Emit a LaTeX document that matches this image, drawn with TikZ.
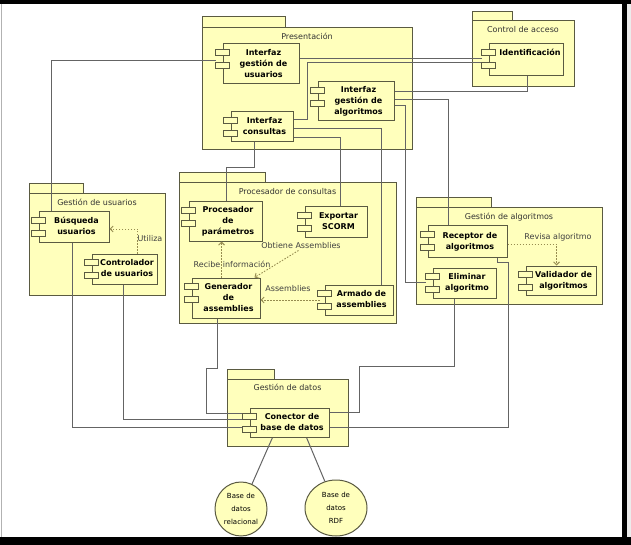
\documentclass[tikz,border=0pt]{standalone}
\usepackage{fontspec}
\setmainfont{DejaVu Sans}
\usetikzlibrary{calc,arrows.meta,shapes.geometric}
\pgfdeclarelayer{bg}
\pgfdeclarelayer{wires}
\pgfsetlayers{bg,wires,main}
\definecolor{pkgfill}{RGB}{255,255,188}
\definecolor{edgec}{RGB}{90,90,65}
\definecolor{wirec}{RGB}{100,100,100}
\definecolor{depc}{RGB}{150,140,80}
\tikzset{
  pkgbox/.style={draw=edgec, fill=pkgfill, line width=1pt, rectangle, inner sep=0pt},
  comp/.style={draw=edgec, fill=pkgfill, line width=1pt, rectangle, inner sep=0pt, align=center, font=\bfseries\fontsize{8}{11}\selectfont},
  comptab/.style={draw=edgec, fill=pkgfill, line width=0.9pt},
  wire/.style={draw=wirec, line width=1pt},
  dep/.style={draw=depc, line width=0.9pt, dash pattern=on 1.5pt off 1.5pt, -{Straight Barb[length=3pt,width=6pt]}},
  deplabel/.style={font=\fontsize{8}{10}\selectfont, text=black!75, inner sep=0pt},
  pkglabel/.style={font=\fontsize{8}{10}\selectfont, text=black!80, anchor=base, inner sep=0pt},
  dbnode/.style={ellipse, draw=edgec, fill=pkgfill, line width=1pt, inner sep=0pt, align=center, font=\fontsize{7}{13}\selectfont},
}
\newcommand\umlcomp[6]{%
  \node[comp, minimum width={(#4-#2)*1pt}, minimum height={(#5-#3)*1pt}] (#1) at ({(#2+#4)/2},{(#3+#5)/2}) {\hspace*{5pt}\begin{tabular}{@{}c@{}}#6\end{tabular}};
  \draw[comptab] ($(#1.north west)+(-7,6)$) rectangle ++(14,6);
  \draw[comptab] ($(#1.north west)+(-7,19)$) rectangle ++(14,6);
}
\newcommand\umlpkg[8]{%
  \begin{pgfonlayer}{bg}
  \draw[pkgbox] (#2,#7) rectangle (#6,#3);
  \node[pkgbox, minimum width={(#4-#2)*1pt}, minimum height={(#5-#3)*1pt}] (#1) at ({(#2+#4)/2},{(#3+#5)/2}) {};
  \node[pkglabel] (#1-l) at ($(#1.north)+(0,12)$) {#8};
  \end{pgfonlayer}
}
\begin{document}
\begin{tikzpicture}[x=1pt,y=-1pt]
\useasboundingbox (0,0) rectangle (631,545);
% frame
\begin{pgfonlayer}{bg}
\fill[white] (0,0) rectangle (631,545);
\fill[gray!15] (627,0) rectangle (631,545);
\fill[black] (0,0) rectangle (631,4);
\fill[black] (622,0) rectangle (627,545);
\fill[black] (0,537) rectangle (631,545);
\draw[gray!60, line width=1pt] (1.5,4) -- (1.5,537);
\end{pgfonlayer}

% packages
\umlpkg{pres}{202}{28}{412}{150}{285}{17}{Presentación}
\umlpkg{ctrl}{472}{21}{574}{87}{512}{12}{Control de acceso}
\umlpkg{gu}{29}{194}{165}{295}{83}{184}{Gestión de usuarios}
\umlpkg{pc}{179}{183}{396}{323}{265}{173}{Procesador de consultas}
\umlpkg{gal}{416}{208}{602}{304}{491}{198}{Gestión de algoritmos}
\umlpkg{gd}{227}{379}{348}{446}{274}{369}{Gestión de datos}

% components
\umlcomp{igu}{223}{44}{299}{84}{Interfaz\\gestión de\\usuarios}
\umlcomp{ic}{231}{112}{293}{142}{Interfaz\\consultas}
\umlcomp{iga}{318}{82}{394}{121}{Interfaz\\gestión de\\algoritmos}
\umlcomp{id}{489}{44}{563}{76}{}
\node[font=\bfseries\fontsize{8}{11}\selectfont, anchor=base, inner sep=0pt] (idt) at ($(id.north)+(4,12)$) {Identificación};
\umlcomp{bu}{39}{212}{109}{242}{Búsqueda\\usuarios}
\umlcomp{cu}{92}{254}{157}{284}{Controlador\\de usuarios}
\umlcomp{pp}{189}{202}{262}{241}{Procesador\\de\\parámetros}
\umlcomp{es}{305}{207}{367}{237}{Exportar\\SCORM}
\umlcomp{ga}{192}{278}{260}{318}{Generador\\de\\assemblies}
\umlcomp{aa}{325}{285}{393}{315}{Armado de\\assemblies}
\umlcomp{ra}{428}{226}{507}{257}{Receptor de\\algoritmos}
\umlcomp{ea}{433}{268}{496}{298}{Eliminar\\algoritmo}
\umlcomp{va}{526}{266}{596}{295}{Validador de\\algoritmos}
\umlcomp{cbd}{250}{408}{329}{437}{Conector de\\base de datos}

% databases
\node[dbnode, minimum width=52pt, minimum height=54pt] (bdr) at (241,509) {Base de\\datos\\relacional};
\node[dbnode, minimum width=62pt, minimum height=56pt] (rdf) at (336,508) {Base de\\datos\\RDF};

% wires
\begin{pgfonlayer}{wires}
\draw[wire] ($(igu.west)+(-7,-3)$) -| ($(bu.north west)+(13,0)$);
\draw[wire] ($(igu.east)+(0,-5)$) -- ($(id.west)+(-7,-1)$);
\draw[wire] ($(ic.east)+(0,-7)$) -- ++(14,0) |- ($(id.west)+(-7,3)$);
\draw[wire] ($(id.south west)+(39,0)$) |- ($(iga.east)+(0,-9.5)$);
\draw[wire] ($(iga.east)+(0,-1.5)$) -| ($(ra.north west)+(21,0)$);
\draw[wire] ($(iga.east)+(0,4.5)$) -- ++(11,0) |- ($(ea.west)+(-7,-1)$);
\draw[wire] ($(ic.east)+(0,2)$) -| ($(aa.north west)+(57,0)$);
\draw[wire] ($(ic.east)+(0,11)$) -| ($(es.north west)+(36,0)$);
\draw[wire] ($(ic.south west)+(24,0)$) -- ++(0,25) -| ($(pp.north west)+(38,0)$);
\draw[wire] ($(bu.south west)+(34,0)$) |- ($(cbd.west)+(-7,4.5)$);
\draw[wire] ($(cu.south west)+(32,0)$) |- ($(cbd.west)+(-7,-3.5)$);
\draw[wire] ($(ga.south west)+(26,0)$) -- ++(0,50) -- ++(-11,0) |- ($(cbd.west)+(-7,-9.5)$);
\draw[wire] ($(ea.south west)+(22,0)$) -- ++(0,68) -- ++(-95,0) |- ($(cbd.east)+(0,-10.5)$);
\draw[wire] ($(ra.south east)+(-10,0)$) -- ++(0,5) -- ++(11,0) |- ($(cbd.east)+(0,4.5)$);
\draw[wire] ($(cbd.south west)+(23,0)$) -- (bdr);
\draw[wire] ($(cbd.south west)+(57,0)$) -- (rdf);
\end{pgfonlayer}

% dependencies
\draw[dep] ($(cu.north west)+(46,0)$) |- ($(bu.east)+(0,2)$);
\node[deplabel] (lut) at (150,239) {Utiliza};
\draw[dep] ($(ga.north west)+(30,0)$) -- ($(pp.south west)+(33,0)$);
\node[deplabel] (lri) at (232,264) {Recibe información};
\draw[dep] ($(es.south west)+(-6,13)$) -- ($(ga.north east)+(-6,0)$);
\node[deplabel] (loa) at (301,246) {Obtiene Assemblies};
\draw[dep] ($(aa.west)+(-5,0)$) -- (aa.west -| ga.east);
\node[deplabel] (las) at (288,289) {Assemblies};
\draw[dep] ($(ra.east)+(0,2.5)$) -| ($(va.north west)+(31,0)$);
\node[deplabel] (lra) at (558,237) {Revisa algoritmo};
\end{tikzpicture}
\end{document}
